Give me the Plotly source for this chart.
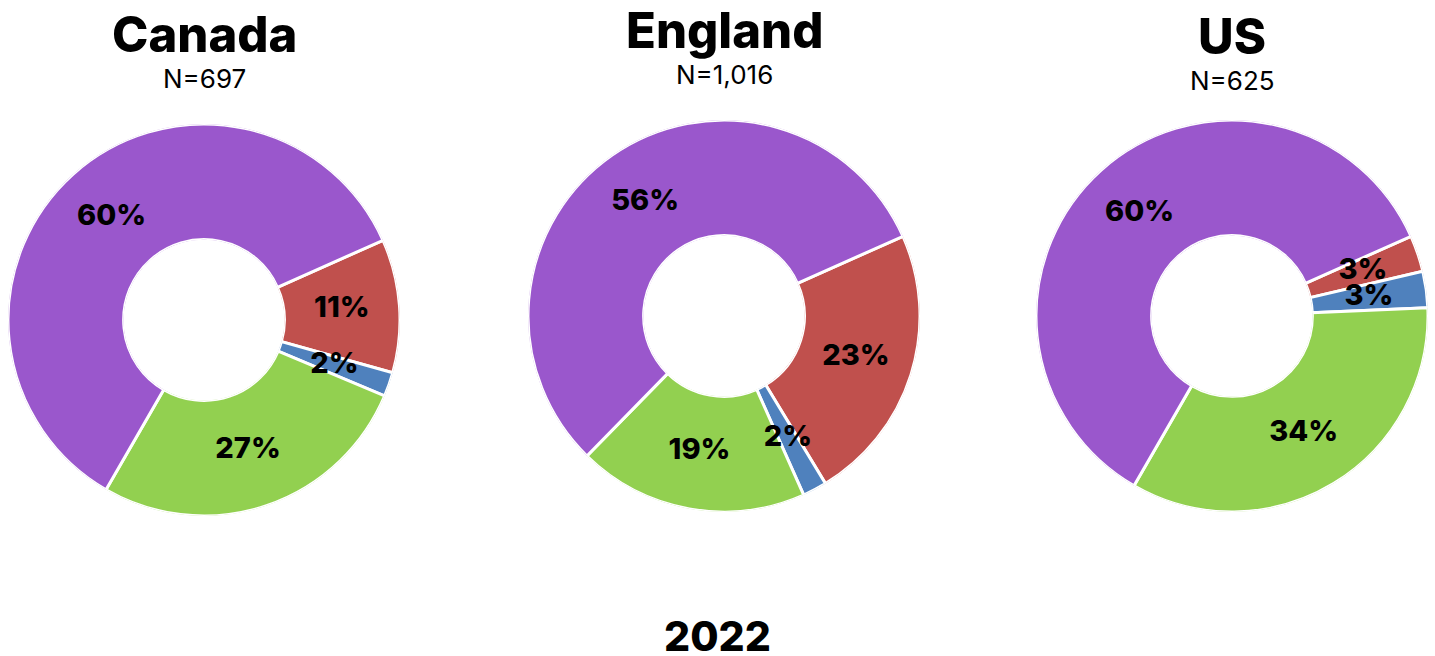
import plotly.graph_objects as go

countries = ["Canada", "England", "US"]
sample_sizes = ["N=697", "N=1,016", "N=625"]
categories = ["Red", "Blue", "Green", "Purple"]
canada = [11, 2, 27, 60]
england = [23, 2, 19, 56]
us = [3, 3, 34, 60]
year = "2022"

colors = ["#c0504d", "#4f81bd", "#92d050", "#9a57cc"]
W, H = 1435, 656
FONT = "Inter"

# pixel boxes of each donut: (left, right, top, bottom)
boxes = [(8, 400, 124, 516), (528, 920, 120, 512), (1036, 1428, 120, 512)]
title_y = [34, 31, 36]
n_y = [78, 74, 80]

fig = go.Figure()
layout_polars = {}
for i, (name, vals, (l, r, t, b)) in enumerate(zip(countries, [canada, england, us], boxes)):
    pname = "polar" if i == 0 else f"polar{i + 1}"
    # angle (deg) of each slice centre and its width
    widths = [v * 3.6 for v in vals]
    mids = []
    acc = 0
    for w in widths:
        mids.append(acc + w / 2)
        acc += w
    fig.add_trace(go.Barpolar(
        r=[1] * len(vals), theta=mids, width=widths, base=0,
        marker=dict(color=colors, line=dict(color="white", width=3)),
        subplot=pname, name=name, text=categories,
        hovertemplate="%{text}: " + "%{customdata}%<extra></extra>",
        customdata=vals,
    ))
    fig.add_trace(go.Scatterpolar(
        r=[0.5] * len(vals), theta=mids, mode="text",
        text=[f"{v}%" for v in vals],
        textfont=dict(family=FONT, size=29, color="black", weight=800),
        subplot=pname, hoverinfo="skip",
    ))
    layout_polars[pname] = dict(
        domain=dict(x=[l / W, r / W], y=[1 - b / H, 1 - t / H]),
        hole=0.41,
        bgcolor="rgba(0,0,0,0)",
        radialaxis=dict(range=[0, 1], visible=False, showgrid=False),
        angularaxis=dict(rotation=24, direction="clockwise", visible=False,
                         showgrid=False, showline=False, ticks=""),
        barmode="overlay",
    )

for i, (name, n, (l, r, t, b)) in enumerate(zip(countries, sample_sizes, boxes)):
    cx = (l + r) / 2 / W
    fig.add_annotation(x=cx, y=1 - title_y[i] / H, xref="paper", yref="paper",
                       text=name, showarrow=False, xanchor="center", yanchor="middle",
                       font=dict(family=FONT, size=49, color="black", weight=800))
    fig.add_annotation(x=cx, y=1 - n_y[i] / H, xref="paper", yref="paper",
                       text=n, showarrow=False, xanchor="center", yanchor="middle",
                       font=dict(family=FONT, size=26, color="black"))

fig.add_annotation(x=0.5, y=1 - 636 / H, xref="paper", yref="paper",
                   text=year, showarrow=False, xanchor="center", yanchor="middle",
                   font=dict(family=FONT, size=41, color="black", weight=800))

fig.update_layout(
    width=W, height=H,
    margin=dict(l=0, r=0, t=0, b=0),
    paper_bgcolor="white", plot_bgcolor="white",
    showlegend=False,
    **layout_polars,
)

fig.write_html("out.html", config={"displayModeBar": False},
               post_script="document.body.style.margin='0';")
